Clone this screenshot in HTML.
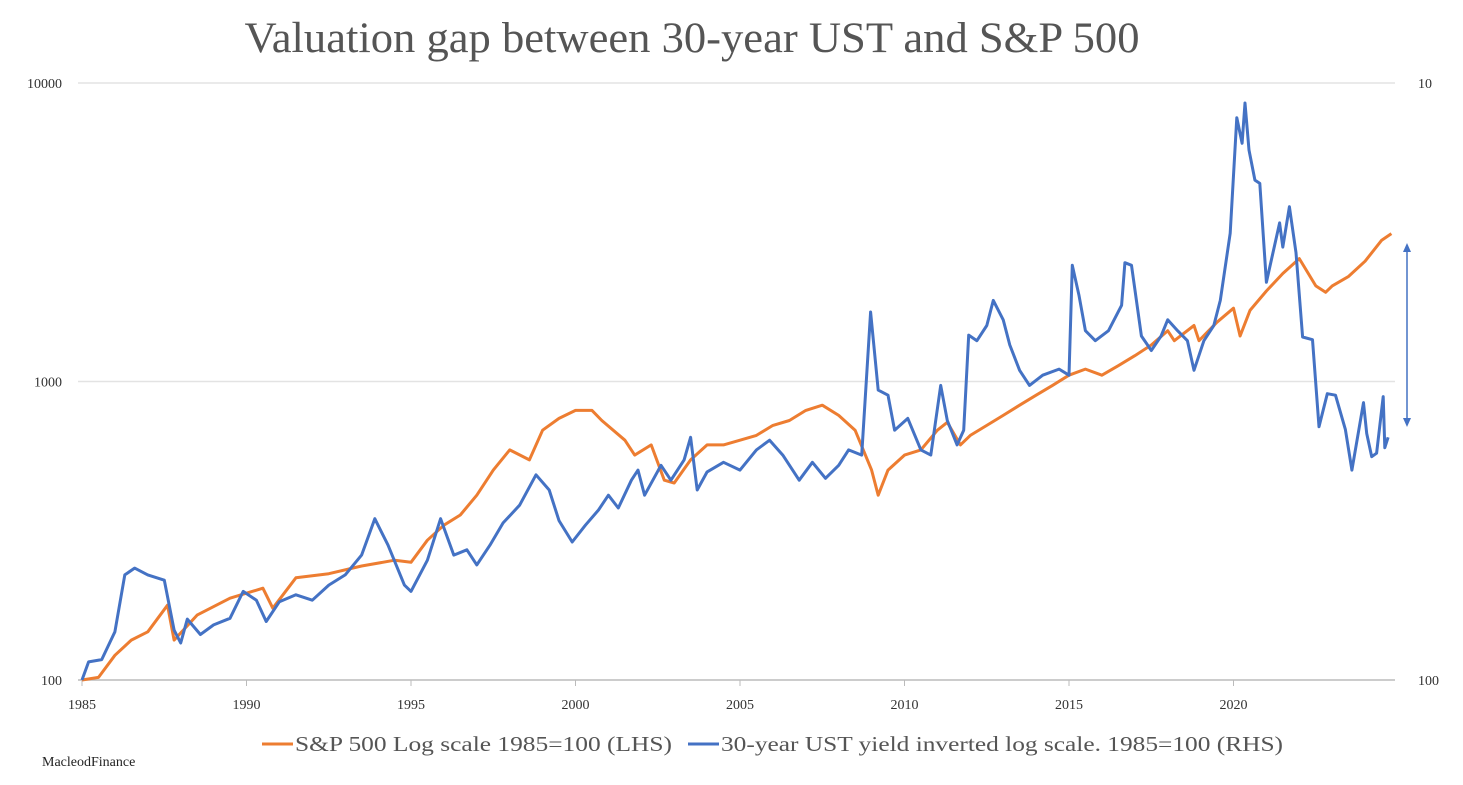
<!DOCTYPE html>
<html><head><meta charset="utf-8"><style>
body{margin:0;background:#fff;width:1463px;height:785px;overflow:hidden;font-family:"Liberation Serif",serif;}
svg{display:block}
</style></head><body>
<svg id="chart" width="1463" height="785">
<text x="692" y="52" text-anchor="middle" font-size="43" fill="#555" textLength="895" lengthAdjust="spacingAndGlyphs">Valuation gap between 30-year UST and S&amp;P 500</text>
<g id="grid"></g>
<g id="axes"></g>
<g id="series"></g>
<g>
<line x1="1407" y1="250" x2="1407" y2="420" stroke="#4472C4" stroke-width="1.5"/>
<polygon points="1403,252 1411,252 1407,243" fill="#4472C4"/>
<polygon points="1403,418 1411,418 1407,427" fill="#4472C4"/>
</g>
<g>
<line x1="262" y1="744" x2="293" y2="744" stroke="#ED7D31" stroke-width="3"/>
<text x="295" y="751" font-size="21" fill="#555" textLength="377" lengthAdjust="spacingAndGlyphs">S&amp;P 500 Log scale 1985=100 (LHS)</text>
<line x1="688" y1="744" x2="719" y2="744" stroke="#4472C4" stroke-width="3"/>
<text x="721" y="751" font-size="21" fill="#555" textLength="562" lengthAdjust="spacingAndGlyphs">30-year UST yield inverted log scale. 1985=100 (RHS)</text>
</g>
<text x="42" y="766" font-size="14" fill="#222">MacleodFinance</text>
</svg>
<script>
const xTicks=[1985,1990,1995,2000,2005,2010,2015,2020];
const leftTicks=[100,1000,10000];
const rightTickLabels=["10","100"];
const spYears=[1985,1985.5,1986,1986.5,1987,1987.6,1987.8,1988.5,1989.5,1990.5,1990.8,1991.5,1992.5,1993.5,1994.5,1995,1995.5,1996,1996.5,1997,1997.5,1998,1998.6,1999,1999.5,2000,2000.5,2000.8,2001.5,2001.8,2002.3,2002.7,2003,2003.5,2004,2004.5,2005,2005.5,2006,2006.5,2007,2007.5,2008,2008.5,2009,2009.2,2009.5,2010,2010.5,2011,2011.3,2011.7,2012,2012.5,2013,2013.5,2014,2014.5,2015,2015.5,2016,2016.5,2017,2017.5,2018,2018.2,2018.8,2018.95,2019.5,2020,2020.2,2020.5,2021,2021.5,2022,2022.5,2022.8,2023,2023.5,2024,2024.5,2024.8];
const spValues=[100,102,121,136,145,178,136,165,188,203,174,220,227,241,252,248,294,330,357,416,505,590,546,687,752,800,800,740,636,567,613,467,457,546,613,613,636,660,713,740,800,833,770,687,505,416,505,567,590,687,730,613,660,713,770,833,900,970,1050,1100,1050,1130,1220,1325,1480,1370,1540,1370,1580,1760,1420,1730,2010,2300,2580,2090,1990,2090,2250,2530,2970,3130];
const ustYears=[1985,1985.2,1985.6,1986,1986.3,1986.6,1987,1987.5,1987.8,1988,1988.2,1988.6,1989,1989.5,1989.9,1990.3,1990.6,1991,1991.5,1992,1992.5,1993,1993.5,1993.9,1994.3,1994.8,1995,1995.5,1995.9,1996.3,1996.7,1997,1997.4,1997.8,1998.3,1998.8,1999.2,1999.5,1999.9,2000.3,2000.7,2001,2001.3,2001.7,2001.9,2002.1,2002.6,2002.9,2003.3,2003.5,2003.7,2004,2004.5,2005,2005.5,2005.9,2006.3,2006.8,2007.2,2007.6,2008,2008.3,2008.7,2008.97,2009.2,2009.5,2009.7,2010.1,2010.5,2010.8,2011.1,2011.3,2011.6,2011.8,2011.95,2012.2,2012.5,2012.7,2013,2013.2,2013.5,2013.8,2014.2,2014.7,2015,2015.1,2015.3,2015.5,2015.8,2016.2,2016.6,2016.7,2016.9,2017.2,2017.5,2017.8,2018,2018.3,2018.6,2018.8,2019.1,2019.4,2019.6,2019.9,2020.1,2020.26,2020.35,2020.47,2020.65,2020.8,2021,2021.4,2021.5,2021.7,2021.9,2022.1,2022.4,2022.6,2022.85,2023.1,2023.4,2023.6,2023.95,2024.05,2024.2,2024.35,2024.55,2024.6,2024.7];
const ustValues=[100,115,117,145,225,237,225,216,147,133,160,142,153,161,198,185,157,183,193,185,208,225,262,347,283,208,198,252,347,262,273,243,283,336,385,487,433,342,290,330,371,416,377,467,505,416,524,467,546,650,433,498,536,505,590,636,567,467,536,474,524,590,567,1710,936,900,687,752,590,567,970,740,613,687,1430,1370,1540,1870,1610,1325,1090,970,1050,1100,1050,2450,1950,1480,1370,1480,1800,2500,2450,1420,1270,1420,1610,1480,1370,1090,1370,1540,1870,3140,7650,6280,8570,5960,4730,4610,2150,3400,2820,3850,2700,1410,1380,705,910,900,690,505,850,670,560,575,890,600,650];
const NS="http://www.w3.org/2000/svg";
const X0=82,PXY=32.9,Y100=680,PXDEC=298.5;
function xs(yr){return X0+(yr-1985)*PXY;}
function ys(v){return Y100-(Math.log10(v)-2)*PXDEC;}
function mk(tag,attrs,parent){const e=document.createElementNS(NS,tag);for(const k in attrs)e.setAttribute(k,attrs[k]);parent.appendChild(e);return e;}
const grid=document.getElementById('grid'),axes=document.getElementById('axes'),series=document.getElementById('series');
leftTicks.forEach((t,i)=>{
  const l=mk('line',{x1:78,x2:1395,y1:ys(t),y2:ys(t),stroke:i===0?'#bbb':'#e3e3e3','stroke-width':1.5},grid);
  
  
  const tx=mk('text',{x:62,y:ys(t)+5,'text-anchor':'end','font-size':14,fill:'#333'},axes);
  tx.textContent=t;
  
  
});
rightTickLabels.forEach((t,i)=>{
  const tx=mk('text',{x:1418,y:(i===0?ys(10000):ys(100))+5,'font-size':14,fill:'#333'},axes);
  tx.textContent=t;
  
  
});
xTicks.forEach(yr=>{
  const tk=mk('line',{x1:xs(yr),x2:xs(yr),y1:680,y2:686,stroke:'#bbb','stroke-width':1},axes);
  
  
  const tx=mk('text',{x:xs(yr),y:709,'text-anchor':'middle','font-size':14,fill:'#333'},axes);
  tx.textContent=yr;
  
  
});
function line(years,vals,color,name){
  const d=years.map((y,i)=>(i?'L':'M')+xs(y).toFixed(1)+','+ys(vals[i]).toFixed(1)).join('');
  const p=mk('path',{d:d,fill:'none',stroke:color,'stroke-width':3,'stroke-linejoin':'round'},series);
  
  
}
line(spYears,spValues,'#ED7D31','sp500-line');
line(ustYears,ustValues,'#4472C4','ust-yield-line');
</script>
</body></html>
